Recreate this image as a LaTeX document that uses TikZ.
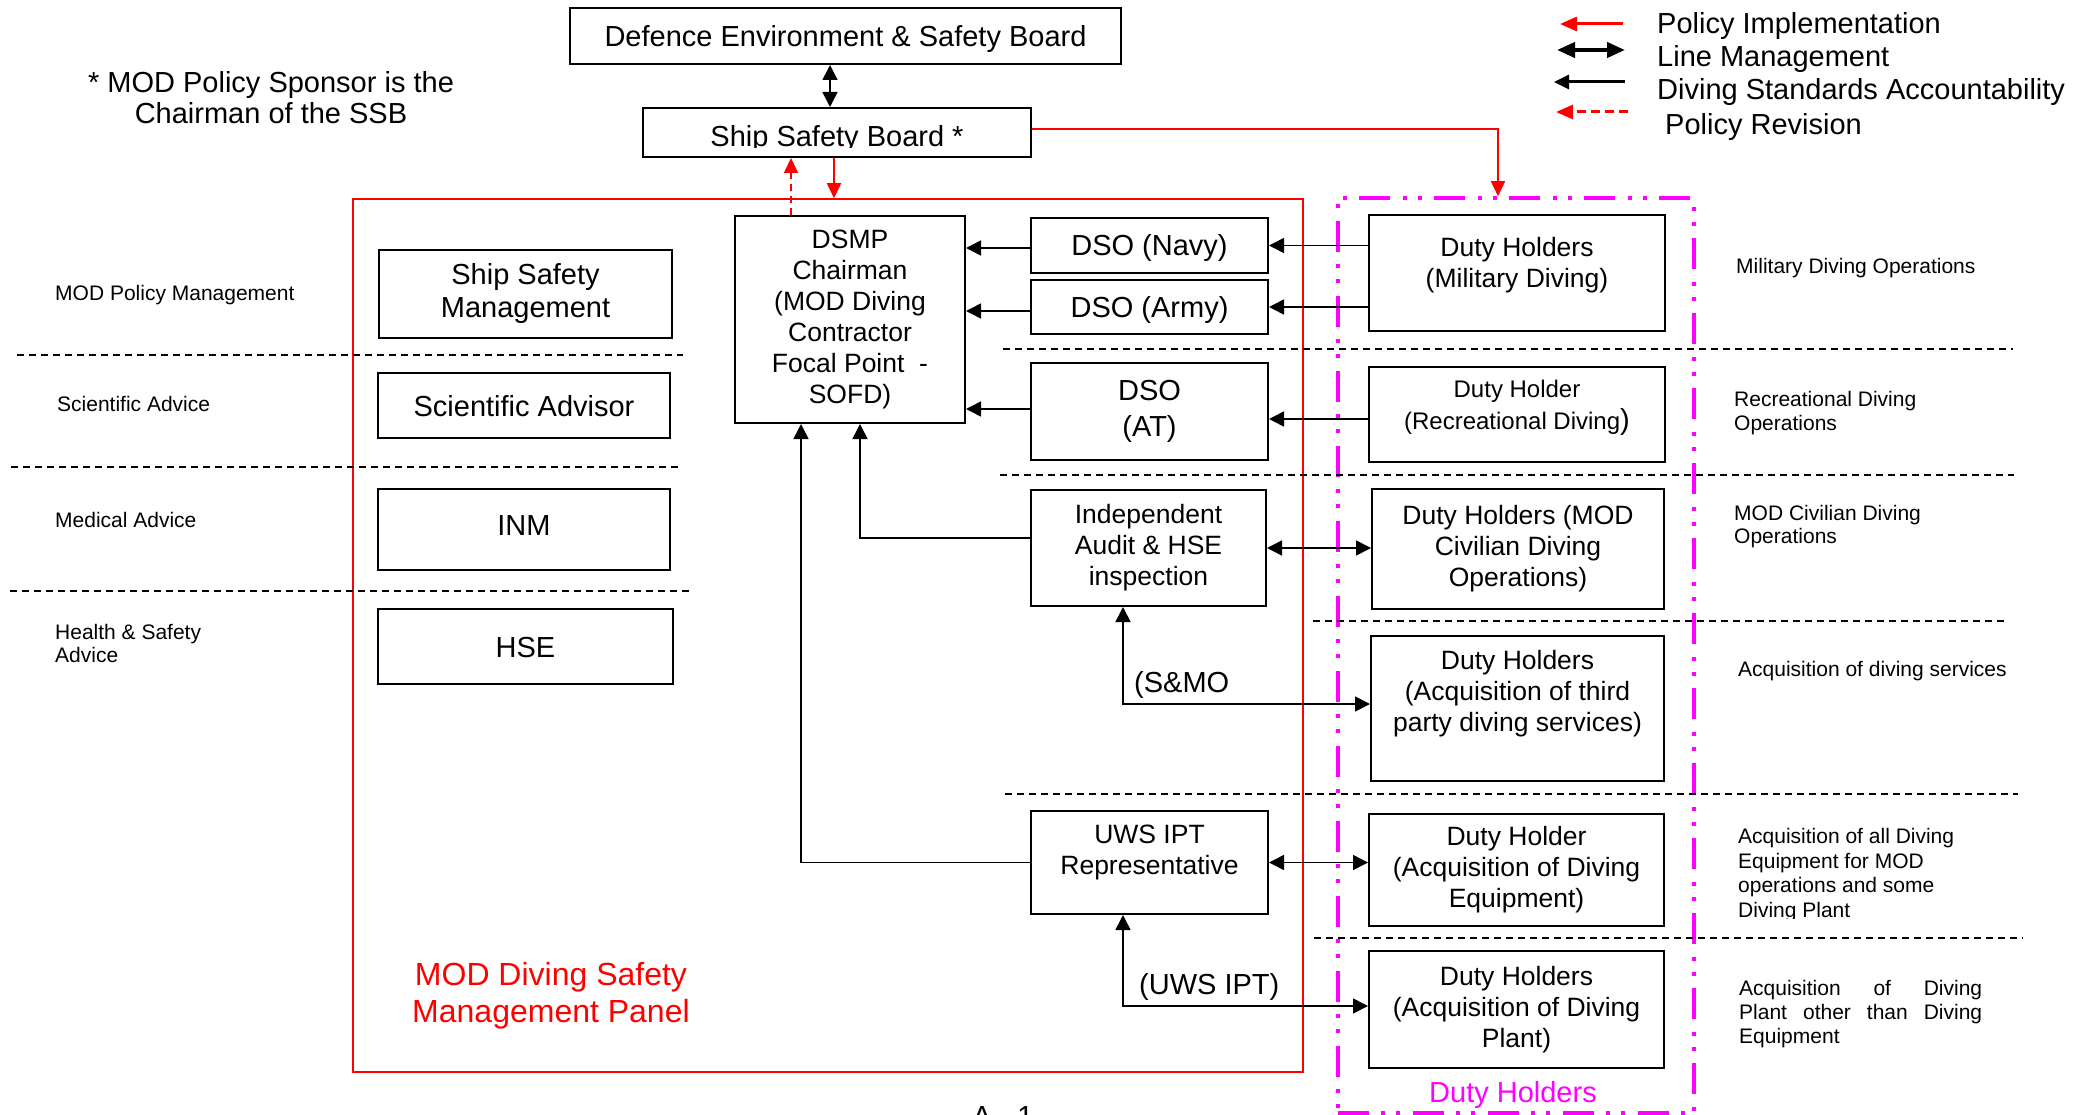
\documentclass[tikz,border=0pt]{standalone}
\usepackage{fontspec}
\setmainfont{Liberation Sans}
\usetikzlibrary{arrows.meta,calc}
\definecolor{pred}{RGB}{255,0,0}
\definecolor{pmag}{RGB}{255,0,255}
\begin{document}
\begin{tikzpicture}[x=1pt,y=-1pt,
  bx/.style={draw, line width=2pt, inner sep=0pt, align=center, font=\fontsize{29}{31}\selectfont},
  mid/.style={font=\fontsize{26.5}{31}\selectfont},
  one/.style={text height=21pt, text depth=0pt},
  txt/.style={inner sep=0pt, align=center},
  lbl/.style={inner sep=0pt, anchor=base west, align=left, font=\fontsize{21}{24.5}\selectfont},
  big/.style={inner sep=0pt, font=\fontsize{29}{31}\selectfont},
  arr/.style={line width=1.6pt, -{Triangle[length=15pt,width=15pt]}},
  darr/.style={line width=1.6pt, {Triangle[length=15pt,width=15pt]}-{Triangle[length=15pt,width=15pt]}},
  rarr/.style={draw=pred, line width=1.6pt, -{Triangle[length=15pt,width=14pt]}},
  sep/.style={line width=1.5pt, dash pattern=on 7pt off 5pt},
]
\useasboundingbox (0,0) rectangle (2091,1115);

% panels
\node[draw=pred, line width=1.5pt, inner sep=0pt, minimum width=950pt, minimum height=873pt] (panel) at (828,635.5) {};
\node[draw=pmag, line width=3.5pt, dash pattern=on 31pt off 12pt on 4pt off 11pt on 4pt off 13pt, inner sep=0pt, minimum width=356pt, minimum height=915pt] (dhpanel) at (1516,655.5) {};

% separators
\draw[sep] (17,355) -- (683,355);
\draw[sep] (11,467) -- (678,467);
\draw[sep] (10,591) -- (690,591);
\draw[sep] (1003,349) -- (2013,349);
\draw[sep] (1000,475) -- (2014,475);
\draw[sep] (1313,621) -- (2007,621);
\draw[sep] (1005,794) -- (2018,794);
\draw[sep] (1314,938) -- (2023,938);

% boxes
\node[bx, one, minimum width=551pt, minimum height=56pt] (deb) at (845.5,36) {Defence Environment \& Safety Board};
\node[bx, minimum width=388pt, minimum height=49pt] (ssb) at (837,132.5) {};
\begin{scope}
  \clip (643,108) rectangle (1031,147.5);
  \node[big, anchor=base] (ssbt) at (837,147) {Ship Safety Board *};
\end{scope}
\node[bx, mid, minimum width=230pt, minimum height=207pt] (dsmp) at (850,319.5) {DSMP\\Chairman\\(MOD Diving\\Contractor\\Focal Point\ \ -\\SOFD)};
\node[bx, font=\fontsize{29}{33}\selectfont, minimum width=293pt, minimum height=88pt] (ssm) at (525.5,294) {Ship Safety\\Management};
\node[bx, one, minimum width=292pt, minimum height=65pt] (sci) at (524,405.5) {Scientific Advisor};
\node[bx, minimum width=292pt, minimum height=81pt] (inm) at (524,529) {};
\node[big, anchor=base] (inmt) at (524,535.5) {INM};
\node[bx, one, minimum width=295pt, minimum height=75pt] (hse) at (525.5,646.5) {HSE};

\node[bx, one, minimum width=237pt, minimum height=55pt] (dsonavy) at (1149.5,245.5) {DSO (Navy)};
\node[bx, one, minimum width=237pt, minimum height=54pt] (dsoarmy) at (1149.5,307) {DSO (Army)};
\node[bx, font=\fontsize{29}{36}\selectfont, minimum width=237pt, minimum height=97pt] (dsoat) at (1149.5,411.5) {DSO\\(AT)};
\node[bx, mid, minimum width=235pt, minimum height=116pt] (indep) at (1148.5,548) {Independent\\Audit \& HSE\\inspection};
\node[bx, minimum width=237pt, minimum height=103pt] (uws) at (1149.5,862.5) {};
\node[txt, mid] (uwst) at (1149.5,852.5) {UWS IPT\\Representative};

\node[bx, minimum width=296pt, minimum height=116pt] (dhmil) at (1517,273) {};
\node[txt, mid] (dhmilt) at (1517,265.5) {Duty Holders\\(Military Diving)};
\node[bx, minimum width=296pt, minimum height=95pt] (dhrec) at (1517,414.5) {};
\node[txt, font=\fontsize{24}{32}\selectfont] (dhrect) at (1517,408) {Duty Holder\\(Recreational Diving{\fontsize{29}{32}\selectfont)}};
\node[bx, mid, minimum width=292pt, minimum height=120pt] (dhciv) at (1518,549) {Duty Holders (MOD\\Civilian Diving\\Operations)};
\node[bx, minimum width=293pt, minimum height=145pt] (dhthird) at (1517.5,708.5) {};
\node[txt, mid] (dhthirdt) at (1517.5,694) {Duty Holders\\(Acquisition of third\\party diving services)};
\node[bx, mid, minimum width=295pt, minimum height=112pt] (dheq) at (1516.5,870) {Duty Holder\\(Acquisition of Diving\\Equipment)};
\node[bx, mid, minimum width=295pt, minimum height=117pt] (dhplant) at (1516.5,1009.5) {Duty Holders\\(Acquisition of Diving\\Plant)};

% panel titles
\node[txt, text=pred, font=\fontsize{32}{37}\selectfont, anchor=base] (paneltxt) at (551,1022.5) {MOD Diving Safety\\Management Panel};
\node[big, text=pmag, anchor=base] (dhptxt) at (1513,1102.5) {Duty Holders};

% connectors
\draw[darr] ([xshift=-15.5pt]deb.south) -- ([xshift=-15.5pt]deb.south |- ssb.north);
\draw[rarr] ([xshift=-3pt]ssb.south) -- ([xshift=-3pt]ssb.south |- panel.north);
\draw[rarr, dash pattern=on 7pt off 5pt] ([xshift=-59pt]dsmp.north) -- ([xshift=-59pt]dsmp.north |- ssb.south);
\draw[rarr] ([yshift=3.5pt]ssb.east) -| ([xshift=-18pt]dhpanel.north);

\draw[arr] (dhmil.west |- dsonavy.east) -- (dsonavy.east);
\draw[arr] (dhmil.west |- dsoarmy.east) -- (dsoarmy.east);
\draw[arr] ([yshift=-4.5pt]dhrec.west) -- ([yshift=-4.5pt]dhrec.west -| dsoat.east);
\draw[arr] ([yshift=-2.5pt]dsonavy.west) -- ([yshift=-2.5pt]dsonavy.west -| dsmp.east);
\draw[arr] ([yshift=-4pt]dsoarmy.west) -- ([yshift=-4pt]dsoarmy.west -| dsmp.east);
\draw[arr] ([yshift=2.5pt]dsoat.west) -- ([yshift=2.5pt]dsoat.west -| dsmp.east);
\draw[arr] ([yshift=10pt]indep.west) -| ([xshift=10pt]dsmp.south);
\draw[arr] (uws.west) -| ([xshift=-49pt]dsmp.south);
\draw[darr] (indep.east) -- (indep.east -| dhciv.west);
\draw[darr] ([xshift=-25.5pt]indep.south) |- ([yshift=4.5pt]dhthird.west);
\draw[darr] (uws.east) -- (uws.east -| dheq.west);
\draw[darr] ([xshift=-26.5pt]uws.south) |- ([yshift=3.5pt]dhplant.west);
\node[big, anchor=base west] (smo) at (1134,692) {(S\&MO};
\node[big, anchor=base west] (uwsl) at (1139,994) {(UWS IPT)};

% note
\node[txt, big, align=center, anchor=base] (note) at (271,123.5) {* MOD Policy Sponsor is the\\Chairman of the SSB};

% legend
\coordinate (l1a) at (1623,24); \coordinate (l1b) at (1560,24);
\coordinate (l2a) at (1557,50); \coordinate (l2b) at (1625,50);
\coordinate (l3a) at (1625,82); \coordinate (l3b) at (1554,82);
\coordinate (l4a) at (1628,112); \coordinate (l4b) at (1556,112);
\draw[draw=pred, line width=3pt, -{Triangle[length=17pt,width=14pt]}] (l1a) -- (l1b);
\draw[line width=4pt, {Triangle[length=18pt,width=15pt]}-{Triangle[length=18pt,width=15pt]}] (l2a) -- (l2b);
\draw[line width=3pt, -{Triangle[length=15pt,width=14pt]}] (l3a) -- (l3b);
\draw[draw=pred, line width=3pt, dash pattern=on 9pt off 5pt, -{Triangle[length=17pt,width=14pt]}] (l4a) -- (l4b);
\node[big, anchor=base west] (lt1) at (1657,33.3) {Policy Implementation};
\node[big, anchor=base west] (lt2) at (1657,66.7) {Line Management};
\node[big, anchor=base west] (lt3) at (1657,100) {Diving Standards Accountability};
\node[big, anchor=base west] (lt4) at (1665,135) {Policy Revision};

% left labels
\node[lbl] (ll1) at (55,301) {MOD Policy Management};
\node[lbl] (ll2) at (57,411) {Scientific Advice};
\node[lbl] (ll3) at (55,527.5) {Medical Advice};
\node[lbl, font=\fontsize{21}{23.3}\selectfont] (ll4) at (55,662.3) {Health \& Safety\\Advice};

% right labels
\node[lbl] (rl1) at (1736,273.3) {Military Diving Operations};
\node[lbl, font=\fontsize{21}{23.5}\selectfont] (rl2) at (1734,430.2) {Recreational Diving\\Operations};
\node[lbl, font=\fontsize{21}{23.5}\selectfont] (rl3) at (1734,543.5) {MOD Civilian Diving\\Operations};
\node[lbl] (rl4) at (1738,676.4) {Acquisition of diving services};
\begin{scope}
  \clip (1700,800) rectangle (2091,918);
  \node[lbl, font=\fontsize{21}{24.6}\selectfont] (rl5) at (1738,917.5) {Acquisition of all Diving\\Equipment for MOD\\operations and some\\Diving Plant};
\end{scope}
\node[lbl, font=\fontsize{21}{24.2}\selectfont] (rl6) at (1739,1043.8) {\makebox[243pt][s]{Acquisition of Diving}\\\makebox[243pt][s]{Plant other than Diving}\\Equipment};

% page number
\node[big, anchor=base] (pg) at (1003,1126) {A - 1};
\end{tikzpicture}
\end{document}
